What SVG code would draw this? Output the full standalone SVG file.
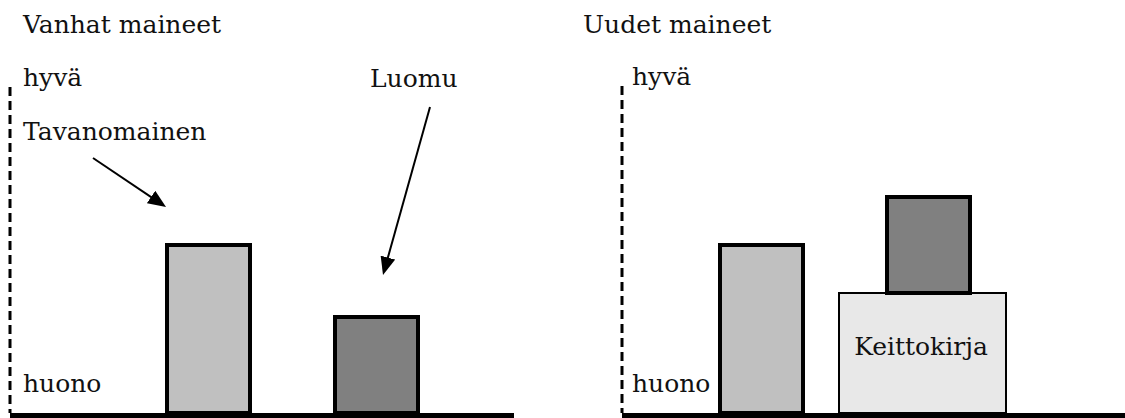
<svg xmlns="http://www.w3.org/2000/svg" width="1125" height="418" viewBox="0 0 1125 418">
  <style>
    .lbl { font-family: 'DejaVu Serif', 'Liberation Serif', serif; font-size: 25px; fill: #111; }
    .bar { stroke: #000; stroke-width: 4; }
    .light { fill: #c0c0c0; }
    .dark { fill: #808080; }
    .book { fill: #e8e8e8; stroke: #000; stroke-width: 2; }
    .axis { stroke: #000; stroke-width: 3; stroke-dasharray: 9 5; fill: none; }
    .ground { stroke: #000; stroke-width: 5; fill: none; }
    .pointer { stroke: #000; stroke-width: 2; fill: none; marker-end: url(#head); }
  </style>
  <defs>
    <marker id="head" markerUnits="userSpaceOnUse" markerWidth="18" markerHeight="15" refX="14" refY="7.5" orient="auto">
      <path d="M0,0 L18,7.5 L0,15 z" fill="#000"/>
    </marker>
  </defs>
  <rect width="1125" height="418" fill="#fff"/>

  <!-- left panel: old reputations -->
  <g id="panel-old">
    <text class="lbl" x="23" y="33">Vanhat maineet</text>
    <line class="axis" x1="10" y1="87" x2="10" y2="413"/>
    <text class="lbl" x="23" y="86">hyvä</text>
    <text class="lbl" x="23" y="392">huono</text>
    <line class="ground" x1="10" y1="415.5" x2="514" y2="415.5"/>
  </g>
  <g id="label-tavanomainen">
    <text class="lbl" x="23" y="140">Tavanomainen</text>
  </g>
  <g id="label-luomu">
    <text class="lbl" x="370" y="87">Luomu</text>
  </g>
  <g id="bar-tavanomainen-old">
    <rect class="bar light" x="167" y="245" width="83" height="168"/>
  </g>
  <g id="bar-luomu-old">
    <rect class="bar dark" x="335" y="317" width="83" height="96"/>
  </g>

  <!-- right panel: new reputations -->
  <g id="panel-new">
    <text class="lbl" x="583" y="33">Uudet maineet</text>
    <line class="axis" x1="622" y1="86" x2="622" y2="413"/>
    <text class="lbl" x="632" y="85">hyvä</text>
    <text class="lbl" x="632" y="392">huono</text>
    <line class="ground" x1="622" y1="415.5" x2="1125" y2="415.5"/>
  </g>
  <g id="bar-tavanomainen-new">
    <rect class="bar light" x="720" y="245" width="83" height="168"/>
  </g>
  <g id="box-keittokirja">
    <rect class="book" x="839" y="293" width="167" height="120"/>
    <text class="lbl" x="921" y="355" text-anchor="middle">Keittokirja</text>
  </g>
  <g id="bar-luomu-new">
    <rect class="bar dark" x="887" y="197" width="83" height="96"/>
  </g>

  <!-- connectors -->
  <g id="connectors">
    <line class="pointer" x1="93" y1="158" x2="162.7" y2="204.8"/>
    <line class="pointer" x1="430" y1="107" x2="384.1" y2="271.1"/>
  </g>
</svg>
